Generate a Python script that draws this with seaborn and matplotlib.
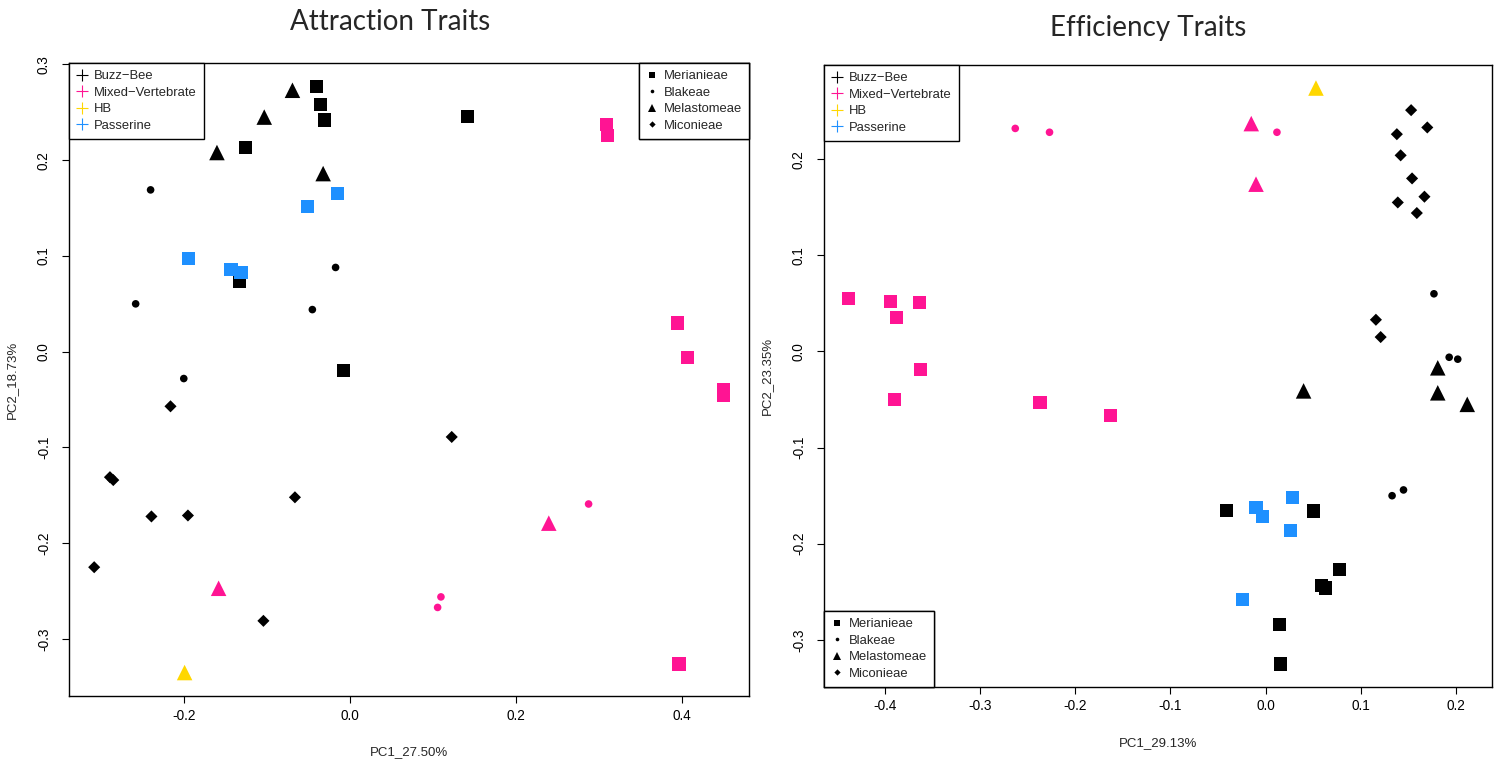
import numpy as np
import pandas as pd
import matplotlib
matplotlib.use("Agg")
import matplotlib.pyplot as plt
from matplotlib.lines import Line2D
from matplotlib.ticker import FixedLocator, FormatStrFormatter
import seaborn as sns

# ---------------- data ----------------
pollinators = ["Buzz\u2212Bee", "Mixed\u2212Vertebrate", "HB", "Passerine"]
tribes = ["Merianieae", "Blakeae", "Melastomeae", "Miconieae"]
BB, MV, HB, PA = pollinators
ME, BL, ML, MI = tribes

# Attraction traits
attr_pc1 = [-0.040, -0.035, -0.030, 0.142, -0.126, -0.133, -0.007,
            -0.069, -0.103, -0.160, -0.032,
            -0.240, -0.017, -0.258, -0.045, -0.200,
            -0.216, 0.123, -0.289, -0.285, -0.066, -0.239, -0.195, -0.308, -0.104,
            0.310, 0.311, 0.395, 0.407, 0.451, 0.451, 0.397,
            0.288, 0.110, 0.106,
            0.240, -0.158,
            -0.199,
            -0.015, -0.051, -0.194, -0.143, -0.131]
attr_pc2 = [0.277, 0.258, 0.242, 0.246, 0.213, 0.073, -0.020,
            0.273, 0.245, 0.208, 0.186,
            0.169, 0.088, 0.050, 0.044, -0.028,
            -0.057, -0.089, -0.131, -0.134, -0.152, -0.172, -0.171, -0.225, -0.281,
            0.237, 0.226, 0.030, -0.006, -0.040, -0.046, -0.326,
            -0.159, -0.256, -0.267,
            -0.179, -0.247,
            -0.335,
            0.165, 0.152, 0.097, 0.086, 0.083]
attr_poll = [BB] * 25 + [MV] * 12 + [HB] + [PA] * 5
attr_tribe = ([ME] * 7 + [ML] * 4 + [BL] * 5 + [MI] * 9 +
              [ME] * 7 + [BL] * 3 + [ML] * 2 + [ML] + [ME] * 5)

# Efficiency traits
eff_pc1 = [-0.438, -0.394, -0.364, -0.388, -0.363, -0.390, -0.237, -0.163,
           -0.263, -0.227, 0.012,
           -0.015, -0.010,
           0.053,
           0.028, -0.010, -0.003, 0.026, -0.024,
           -0.041, 0.050, 0.078, 0.059, 0.063, 0.015, 0.016,
           0.040, 0.181, 0.181, 0.212,
           0.177, 0.193, 0.202, 0.133, 0.145,
           0.153, 0.170, 0.138, 0.142, 0.154, 0.167, 0.139, 0.159, 0.116, 0.121]
eff_pc2 = [0.055, 0.052, 0.051, 0.035, -0.019, -0.050, -0.053, -0.067,
           0.232, 0.228, 0.228,
           0.237, 0.174,
           0.274,
           -0.152, -0.162, -0.172, -0.186, -0.258,
           -0.165, -0.166, -0.227, -0.243, -0.246, -0.284, -0.325,
           -0.041, -0.017, -0.043, -0.055,
           0.060, -0.006, -0.008, -0.150, -0.144,
           0.251, 0.233, 0.226, 0.204, 0.180, 0.161, 0.155, 0.144, 0.033, 0.015]
eff_poll = [MV] * 13 + [HB] + [PA] * 5 + [BB] * 26
eff_tribe = ([ME] * 8 + [BL] * 3 + [ML] * 2 + [ML] + [ME] * 5 +
             [ME] * 7 + [ML] * 4 + [BL] * 5 + [MI] * 10)

# ---------------- style ----------------
palette = {BB: "#000000", MV: "#FF1493", HB: "#FFD700", PA: "#1E90FF"}
markers = {ME: "s", BL: "o", ML: "^", MI: "D"}
sizes = {ME: 90, BL: 30, ML: 125, MI: 38}
leg_markers = {ME: ("s", 4.3), BL: ("o", 2.6), ML: ("^", 5.8), MI: ("D", 3.2)}

sns.set_theme(style="ticks")
plt.rcParams["font.family"] = ["Liberation Sans", "DejaVu Sans"]
plt.rcParams["axes.unicode_minus"] = True

fig = plt.figure(figsize=(15, 7.6), dpi=100)
W, H = 1500, 760


def add_axes(l, t, r, b):
    return fig.add_axes([l / W, 1 - b / H, (r - l) / W, (b - t) / H])


def r_lim(v):
    lo, hi = min(v), max(v)
    d = (hi - lo) * 0.04
    return lo - d, hi + d


def make_legend(ax, kind, loc):
    if kind == "poll":
        handles = [Line2D([], [], linestyle="none", marker="+", color=palette[p],
                          markersize=8, markeredgewidth=0.8) for p in pollinators]
        labels = pollinators
    else:
        handles = [Line2D([], [], linestyle="none", marker=leg_markers[t][0],
                          color="black", markersize=leg_markers[t][1],
                          markeredgewidth=0) for t in tribes]
        labels = tribes
    leg = ax.legend(handles, labels, loc=loc, borderaxespad=0, frameon=True,
                    fancybox=False, edgecolor="black", framealpha=1,
                    handlelength=0.9, handletextpad=0.45, labelspacing=0.33,
                    borderpad=0.55, fontsize=9.4)
    leg.get_frame().set_linewidth(1.0)
    ax.add_artist(leg)
    return leg


def panel(ax, pc1, pc2, poll, tribe, xticks, yticks, xlabel, ylabel):
    df = pd.DataFrame({"PC1": pc1, "PC2": pc2, "Pollinator": poll, "Tribe": tribe})
    sns.scatterplot(data=df, x="PC1", y="PC2", hue="Pollinator", style="Tribe",
                    size="Tribe", palette=palette, markers=markers, sizes=sizes,
                    hue_order=pollinators, style_order=tribes, size_order=tribes,
                    linewidth=0, legend=False, ax=ax)
    ax.set_xlim(*r_lim(pc1))
    ax.set_ylim(*r_lim(pc2))
    ax.xaxis.set_major_locator(FixedLocator(xticks))
    ax.yaxis.set_major_locator(FixedLocator(yticks))
    ax.xaxis.set_major_formatter(FormatStrFormatter("%.1f"))
    ax.yaxis.set_major_formatter(FormatStrFormatter("%.1f"))
    ax.tick_params(axis="both", direction="out", length=5, width=0.8,
                   labelsize=9.8, colors="black")
    ax.tick_params(axis="x", pad=4)
    ax.tick_params(axis="y", pad=8)
    for lab in ax.get_yticklabels():
        lab.set_rotation(90)
        lab.set_va("center")
    for s in ax.spines.values():
        s.set_visible(True)
        s.set_linewidth(1.0)
        s.set_color("black")
    ax.set_xlabel(xlabel, fontsize=9.5, labelpad=17)
    ax.set_ylabel(ylabel, fontsize=9.5, labelpad=14)
    ax.set_facecolor("white")


ax1 = add_axes(69, 63, 749, 696)
panel(ax1, attr_pc1, attr_pc2, attr_poll, attr_tribe,
      [-0.2, 0.0, 0.2, 0.4], [-0.3, -0.2, -0.1, 0.0, 0.1, 0.2, 0.3],
      "PC1_27.50%", "PC2_18.73%")
make_legend(ax1, "poll", "upper left")
make_legend(ax1, "tribe", "upper right")

ax2 = add_axes(824, 65, 1492, 687)
panel(ax2, eff_pc1, eff_pc2, eff_poll, eff_tribe,
      [-0.4, -0.3, -0.2, -0.1, 0.0, 0.1, 0.2], [-0.3, -0.2, -0.1, 0.0, 0.1, 0.2],
      "PC1_29.13%", "PC2_23.35%")
make_legend(ax2, "poll", "upper left")
make_legend(ax2, "tribe", "lower left")

fig.text(390 / W, 1 - 22 / H, "Attraction Traits", ha="center", va="center",
         fontsize=20, family=["Lato", "DejaVu Sans"])
fig.text(1148 / W, 1 - 28 / H, "Efficiency Traits", ha="center", va="center",
         fontsize=20, family=["Lato", "DejaVu Sans"])

fig.savefig("out.png", dpi=100, facecolor="white")
